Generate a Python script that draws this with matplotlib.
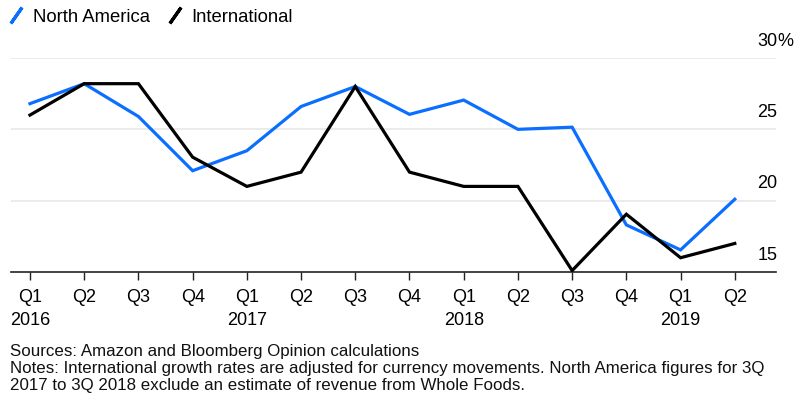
import matplotlib
matplotlib.use("Agg")
import matplotlib.pyplot as plt
from matplotlib.lines import Line2D
from matplotlib import transforms

plt.rcParams['font.family'] = ['Liberation Sans', 'DejaVu Sans']

quarters = ["Q1", "Q2", "Q3", "Q4", "Q1", "Q2", "Q3", "Q4",
            "Q1", "Q2", "Q3", "Q4", "Q1", "Q2"]
years = ["2016", "", "", "", "2017", "", "", "", "2018", "", "", "", "2019", ""]
north_america = [26.8, 28.2, 25.9, 22.1, 23.5, 26.6, 28.0, 26.05,
                 27.05, 25.0, 25.15, 18.3, 16.55, 20.1]
international = [26.0, 28.2, 28.2, 23.05, 21.0, 22.0, 28.0, 22.0,
                 21.0, 21.0, 15.1, 19.05, 16.0, 17.0]
yticks = [15, 20, 25, 30]
ytick_labels = ["15", "20", "25", "30"]

blue = '#0a6eff'

fig = plt.figure(figsize=(8, 3.97), dpi=100)
ax = fig.add_axes([0.01375, 1 - 272 / 397, 0.97 - 0.01375, (272 - 58) / 397])

x = list(range(len(quarters)))
ax.plot(x, north_america, color=blue, lw=2.3, solid_joinstyle='miter', zorder=3)
ax.plot(x, international, color='black', lw=2.3, solid_joinstyle='miter', zorder=4)

ax.set_xlim(-0.35, 13.76)
ax.set_ylim(15, 30)

# gridlines
for v in yticks[1:]:
    ax.axhline(v, color='#e8e8e8', lw=1.2, zorder=1)

for s in ['top', 'right', 'left']:
    ax.spines[s].set_visible(False)
ax.spines['bottom'].set_linewidth(1.2)
ax.spines['bottom'].set_color('#222222')
ax.set_yticks([])
ax.set_xticks(x)
ax.set_xticklabels([q + "\n" + y for q, y in zip(quarters, years)],
                   fontsize=13, linespacing=1.5)
ax.tick_params(axis='x', length=6, width=1, color='#222222', pad=6)

# y labels sitting above the gridlines on the right
trans = transforms.blended_transform_factory(ax.transAxes, ax.transData)
off = transforms.offset_copy(trans, fig=fig, x=0, y=17, units='dots')
for v, lab in zip(yticks, ytick_labels):
    ax.text(1.002, v, lab, transform=off, ha='right', va='center', fontsize=13)
ax.text(1.002, 30, "%", transform=off, ha='left', va='center', fontsize=13)

# legend
handles = [Line2D([], [], color=blue, ls='none', marker=(2, 2, -35), markersize=14, mew=2.3),
           Line2D([], [], color='black', ls='none', marker=(2, 2, -35), markersize=14, mew=2.3)]
fig.legend(handles, ["North America", "International"], loc='center left',
           bbox_to_anchor=(0.01, 1 - 17 / 397), ncol=2, frameon=False, fontsize=13.3,
           handlelength=0.9, handletextpad=0.45, columnspacing=0.9, borderaxespad=0,
           borderpad=0)

fig.text(0.0125, 1 - 344 / 397,
         "Sources: Amazon and Bloomberg Opinion calculations\n"
         "Notes: International growth rates are adjusted for currency movements. North America figures for 3Q\n"
         "2017 to 3Q 2018 exclude an estimate of revenue from Whole Foods.",
         ha='left', va='top', fontsize=12.2, linespacing=1.17, color='#111111')

fig.savefig("out.png", dpi=100)
